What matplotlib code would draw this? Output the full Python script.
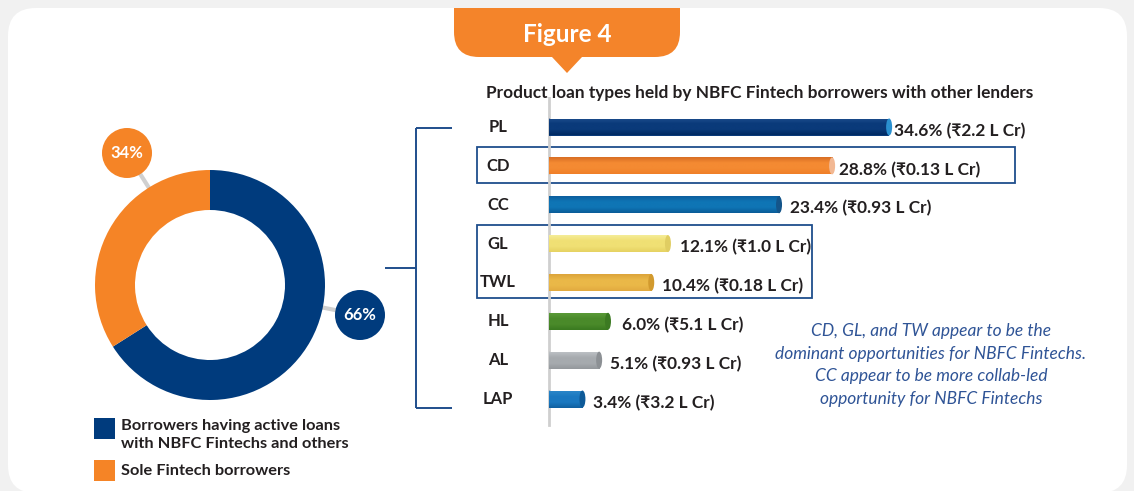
import matplotlib
matplotlib.use("Agg")
import matplotlib.pyplot as plt
import numpy as np
from matplotlib.patches import FancyBboxPatch, Rectangle, Circle, Ellipse, PathPatch
from matplotlib.path import Path
from matplotlib.colors import LinearSegmentedColormap

# ---------------- data ----------------
categories = ["PL", "CD", "CC", "GL", "TWL", "HL", "AL", "LAP"]
shares = [34.6, 28.8, 23.4, 12.1, 10.4, 6.0, 5.1, 3.4]
amounts = ["2.2", "0.13", "0.93", "1.0", "0.18", "5.1", "0.93", "3.2"]
donut_labels = ["Borrowers having active loans\nwith NBFC Fintechs and others",
                "Sole Fintech borrowers"]
donut_values = [66, 34]
title = "Product loan types held by NBFC Fintech borrowers with other lenders"
note = ("CD, GL, and TW appear to be the\ndominant opportunities for NBFC Fintechs.\n"
        "CC appear to be more collab-led\nopportunity for NBFC Fintechs")

# ---------------- styles ----------------
W, H = 1134, 491
FONT = ["Lato", "DejaVu Sans"]
plt.rcParams["font.family"] = FONT
NAVY = "#003b7d"
ORANGE = "#f58426"
LINEBLUE = "#1f4e8c"
TXT = "#231f20"
bar_grad = [("#1c4c8c", "#0a3a7a", "#002a62", "#2a90d0"),
            ("#d86e24", "#f48a32", "#f07f28", "#f2b893"),
            ("#0c5e9e", "#0f75b5", "#0a5c98", "#14558a"),
            ("#f5ec98", "#f0e074", "#e6d262", "#e0cd62"),
            ("#dca43a", "#eab848", "#e2aa40", "#d29a2e"),
            ("#5a9a38", "#4a8a2a", "#3a7a20", "#3c7a22"),
            ("#bcc0c4", "#a6aaae", "#94989c", "#8c9094"),
            ("#2a86c8", "#1a78c0", "#1060a0", "#0e5a98")]
label_gap = [0.45, 0.7, 1.1, 1.2, 1.1, 1.4, 1.1, 1.1]


def fr(x0, y0, x1, y1):
    return [x0 / W, 1 - y1 / H, (x1 - x0) / W, (y1 - y0) / H]


fig = plt.figure(figsize=(W / 100, H / 100), dpi=100, facecolor="#f1f1f1")

# background / decoration axes in pixel coordinates
bg = fig.add_axes([0, 0, 1, 1], zorder=0)
bg.set_xlim(0, W)
bg.set_ylim(H, 0)
bg.axis("off")

bg.add_patch(FancyBboxPatch((8, 8), 1119, 485,
                            boxstyle="round,pad=0,rounding_size=28",
                            facecolor="white", edgecolor="none"))

# banner
verts = [(454, 8), (454, 32), (454, 57), (479, 57), (552, 57), (567, 73),
         (582, 57), (655, 57), (680, 57), (680, 32), (680, 8), (454, 8)]
codes = [Path.MOVETO, Path.LINETO, Path.CURVE3, Path.CURVE3, Path.LINETO,
         Path.LINETO, Path.LINETO, Path.LINETO, Path.CURVE3, Path.CURVE3,
         Path.LINETO, Path.CLOSEPOLY]
bg.add_patch(PathPatch(Path(verts, codes), facecolor="#f4842a", edgecolor="none"))
bg.text(567, 34, "Figure 4", color="white", fontsize=17.5, fontweight="bold",
        ha="center", va="center")

# title
bg.text(760, 93, title, color=TXT, fontsize=12.4, fontweight="bold",
        ha="center", va="center")

# bracket
bk = dict(color=LINEBLUE, lw=1.4, solid_capstyle="butt")
bg.plot([416, 416], [128, 408], **bk)
bg.plot([416, 452], [128, 128], **bk)
bg.plot([416, 452], [408, 408], **bk)
bg.plot([385, 416], [268, 268], **bk)

# highlight boxes
bg.add_patch(Rectangle((477, 147), 538, 36, fill=False, edgecolor=LINEBLUE, lw=1.3))
bg.add_patch(Rectangle((477, 225), 335, 73, fill=False, edgecolor=LINEBLUE, lw=1.3))

# donut label bubbles
dcx, dcy, R = 210, 285, 115
for (bx, by), col, txt in [((127, 153), ORANGE, "34%"), ((360, 315), NAVY, "66%")]:
    dx, dy = bx - dcx, by - dcy
    d = np.hypot(dx, dy)
    ex, ey = dcx + dx / d * (R - 3), dcy + dy / d * (R - 3)
    bg.plot([bx, ex], [by, ey], color="#d0d0d0", lw=3, zorder=1)
    bg.add_patch(Circle((bx, by), 25, facecolor=col, edgecolor="none", zorder=5))
    bg.text(bx, by, txt, color="white", fontsize=12, fontweight="bold",
            ha="center", va="center", zorder=6)

# legend
for (y0, col), lab in zip([(418, NAVY), (460, ORANGE)], donut_labels):
    bg.add_patch(Rectangle((94, y0), 21, 21, facecolor=col, edgecolor="none"))
ly = [435, 471]
for yy, lab in zip(ly, donut_labels):
    bg.text(121, yy, lab, color=TXT, fontsize=11.8, fontweight="bold",
            ha="left", va="center", linespacing=1.45)

# note
bg.text(931, 365, note, color="#2f5496", fontsize=12.5, fontstyle="italic",
        ha="center", va="center", linespacing=1.5)

# ---------------- donut ----------------
pax = fig.add_axes(fr(95, 170, 325, 400), zorder=2)
pax.pie(donut_values, colors=[NAVY, ORANGE], startangle=90, counterclock=False,
        radius=1.0, wedgeprops=dict(width=40 / 115, edgecolor="none"))
pax.set_xlim(-1, 1)
pax.set_ylim(-1, 1)
pax.set_aspect("equal")
pax.axis("off")

# ---------------- bars ----------------
PX = 9.83          # pixels per percent
row_h = 38.86
y_first = 127
XMAX = 50
ax = fig.add_axes(fr(549, y_first - row_h / 2, 549 + XMAX * PX, y_first + row_h * 7.5),
                  zorder=3)
ax.patch.set_alpha(0)
ax.set_xlim(0, XMAX)
ax.set_ylim(7.5, -0.5)
ax.axis("off")
ax.axvline(0, ymin=-0.02, ymax=1.03, color="#cfcfcf", lw=2, zorder=1, clip_on=False)

bh = 17 / row_h
capw = 6 / PX
ypos = np.arange(len(categories))
bars = ax.barh(ypos, shares, height=bh, color=[g[1] for g in bar_grad],
               zorder=3, edgecolor="none")
for i, (b, v, g) in enumerate(zip(bars, shares, bar_grad)):
    cmap = LinearSegmentedColormap.from_list("g", [g[0], g[1], g[1], g[2]])
    grad = np.linspace(0, 1, 64).reshape(-1, 1)
    ax.add_patch(Ellipse((0, i), capw, bh, facecolor=g[1], edgecolor="none", zorder=2))
    im = ax.imshow(grad, cmap=cmap, aspect="auto", zorder=4,
                   extent=[0, v, i + bh / 2, i - bh / 2], interpolation="bilinear")
    im.set_clip_path(b)
    ax.add_patch(Ellipse((v, i), capw, bh, facecolor=g[3], edgecolor="none", zorder=5))
    ax.text(v + label_gap[i], i + 0.1, f"{v:.1f}% (\u20b9{amounts[i]} L Cr)", color=TXT,
            fontsize=12.4, fontweight="bold", ha="left", va="center", zorder=6)
    ax.text(-51 / (XMAX * PX), i, categories[i], transform=ax.get_yaxis_transform(),
            color=TXT, fontsize=11.9, fontweight="bold", ha="center", va="center")
ax.set_xlim(0, XMAX)
ax.set_ylim(7.5, -0.5)

fig.savefig("out.png", dpi=100, facecolor=fig.get_facecolor())
